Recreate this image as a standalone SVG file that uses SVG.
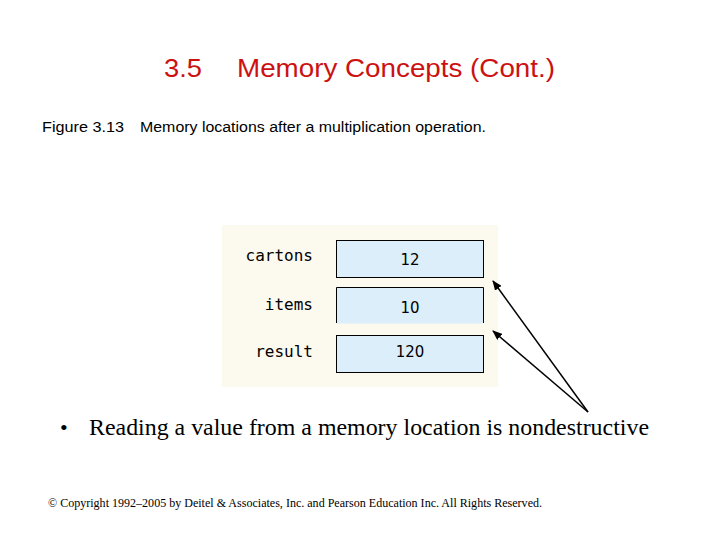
<svg xmlns="http://www.w3.org/2000/svg" width="720" height="540" viewBox="0 0 720 540">
<style>
.h{font-family:"Liberation Sans",Arial,sans-serif;font-size:25px;fill:#cc1111}
.c{font-family:"Liberation Sans",Arial,sans-serif;font-size:14px;fill:#000}
.m{font-family:"DejaVu Sans Mono",monospace;font-size:16px;fill:#000}
.v{font-family:"DejaVu Sans",sans-serif;font-size:15px;fill:#000;text-anchor:middle}
.b{fill:#dbeefa;stroke:#000;stroke-width:1}
.s{font-family:"Liberation Serif","Times New Roman",serif;fill:#000}
</style>
<defs><marker id="a" markerWidth="10" markerHeight="8" refX="9" refY="4" orient="auto" markerUnits="userSpaceOnUse"><path d="M0,0 L10,4 L0,8 z" fill="#000"/></marker></defs>
<rect width="720" height="540" fill="#fff"/>
<text class="h" x="164" y="77" textLength="38" lengthAdjust="spacingAndGlyphs">3.5</text>
<text class="h" x="237" y="77" textLength="318" lengthAdjust="spacingAndGlyphs">Memory Concepts (Cont.)</text>
<text class="c" x="42" y="132" textLength="82" lengthAdjust="spacingAndGlyphs">Figure 3.13</text>
<text class="c" x="140" y="132" textLength="346" lengthAdjust="spacingAndGlyphs">Memory locations after a multiplication operation.</text>
<rect x="222" y="225" width="276" height="162" fill="#fcf9ef"/>
<g id="cartons"><text class="m" x="313" y="261" text-anchor="end">cartons</text><rect class="b" x="336.5" y="240.5" width="147" height="37"/><text class="v" x="410" y="265">12</text></g>
<g id="items"><text class="m" x="313" y="310" text-anchor="end">items</text><rect x="336.5" y="287.5" width="147" height="36" fill="#dbeefa"/><path d="M336.5,323 V287.5 H483.5 V323" fill="none" stroke="#000"/><text class="v" x="410" y="313">10</text></g>
<g id="result"><text class="m" x="313" y="357" text-anchor="end">result</text><rect class="b" x="336.5" y="335.5" width="147" height="37"/><text class="v" x="410" y="357">120</text></g>
<g id="connectors" stroke="#000" stroke-width="1.5" fill="none">
<line x1="588" y1="412" x2="493" y2="281" marker-end="url(#a)"/>
<line x1="588" y1="412" x2="493" y2="331" marker-end="url(#a)"/>
</g>
<text class="s" x="60" y="435" font-size="22">•</text>
<text class="s" x="89" y="435" font-size="24" textLength="560" lengthAdjust="spacingAndGlyphs">Reading a value from a memory location is nondestructive</text>
<text class="s" x="48" y="507" font-size="12" textLength="494" lengthAdjust="spacingAndGlyphs">© Copyright 1992–2005 by Deitel &amp; Associates, Inc. and Pearson Education Inc. All Rights Reserved.</text>
</svg>
